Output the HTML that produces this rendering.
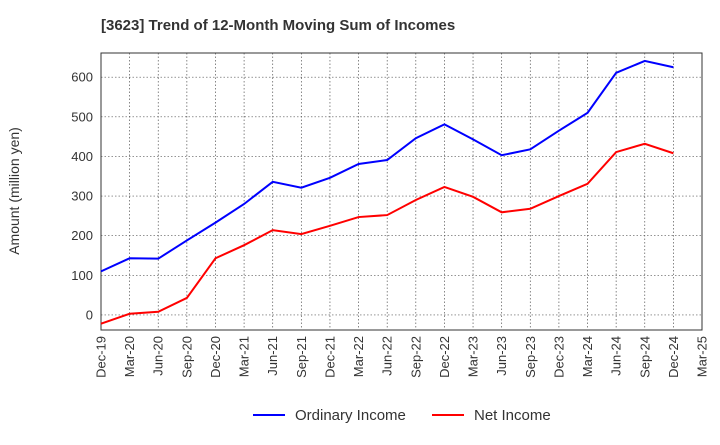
<!DOCTYPE html>
<html><head><meta charset="utf-8"><style>
body{margin:0;background:#fff;font-family:"Liberation Sans",sans-serif;}
svg text{font-family:"Liberation Sans",sans-serif;}
</style></head><body>
<svg id="chart" width="720" height="440">
<text x="101" y="30" font-size="15" font-weight="bold" fill="#333">[3623]  Trend of 12-Month Moving Sum of Incomes</text>
<text transform="translate(19,191) rotate(-90)" text-anchor="middle" font-size="14" fill="#333">Amount (million yen)</text>
<g id="grid"></g><g id="axes"></g><g id="series"></g>
<g>
<line x1="253" y1="415" x2="285" y2="415" stroke="#0000ff" stroke-width="2"/>
<text x="295" y="420" font-size="15" fill="#333">Ordinary Income</text>
<line x1="432" y1="415" x2="464" y2="415" stroke="#ff0000" stroke-width="2"/>
<text x="474" y="420" font-size="15" fill="#333">Net Income</text>
</g>
</svg>
<script>
const categories=["Dec-19","Mar-20","Jun-20","Sep-20","Dec-20","Mar-21","Jun-21","Sep-21","Dec-21","Mar-22","Jun-22","Sep-22","Dec-22","Mar-23","Jun-23","Sep-23","Dec-23","Mar-24","Jun-24","Sep-24","Dec-24","Mar-25"];
const ordinaryIncome=[110,143,142,188,233,280,336,321,346,381,391,446,481,443,403,418,465,510,611,641,625];
const netIncome=[-22,3,8,43,143,176,214,204,225,247,252,290,323,298,259,268,300,331,411,432,408];
const yTicks=[0,100,200,300,400,500,600];
const L=101,R=702,T=53,B=330,yMin=-38,yMax=661;
const NS="http://www.w3.org/2000/svg";
const xs=i=>L+(R-L)*i/(categories.length-1);
const ys=v=>B-(v-yMin)/(yMax-yMin)*(B-T);
function mk(tag,attrs,parent){const e=document.createElementNS(NS,tag);for(const k in attrs)e.setAttribute(k,attrs[k]);parent.appendChild(e);return e;}
const grid=document.getElementById('grid'),axes=document.getElementById('axes'),series=document.getElementById('series');
categories.forEach((c,i)=>{
 const g=mk('line',{x1:xs(i),x2:xs(i),y1:T,y2:B,stroke:'#555','stroke-width':0.7,'stroke-dasharray':'1.5,2'},grid);
 
 
 const t=mk('text',{transform:`translate(${xs(i)+4.5},${B+6}) rotate(-90)`,'text-anchor':'end','font-size':13,fill:'#333'},axes);
 t.textContent=c;
 
 
});
yTicks.forEach(v=>{
 const g=mk('line',{x1:L,x2:R,y1:ys(v),y2:ys(v),stroke:'#555','stroke-width':0.7,'stroke-dasharray':'1.5,2'},grid);
 
 
 const t=mk('text',{x:L-8,y:ys(v)+4.5,'text-anchor':'end','font-size':13,fill:'#333'},axes);
 t.textContent=v;
 
 
});
const fr=mk('rect',{x:L,y:T,width:R-L,height:B-T,fill:'none',stroke:'#333','stroke-width':1},axes);


function line(vals,color,name){
 const p=mk('polyline',{points:vals.map((v,i)=>xs(i)+','+ys(v)).join(' '),fill:'none',stroke:color,'stroke-width':2},series);
 
 
}
line(ordinaryIncome,'#0000ff','ordinary-income-line');
line(netIncome,'#ff0000','net-income-line');
</script>
</body></html>
